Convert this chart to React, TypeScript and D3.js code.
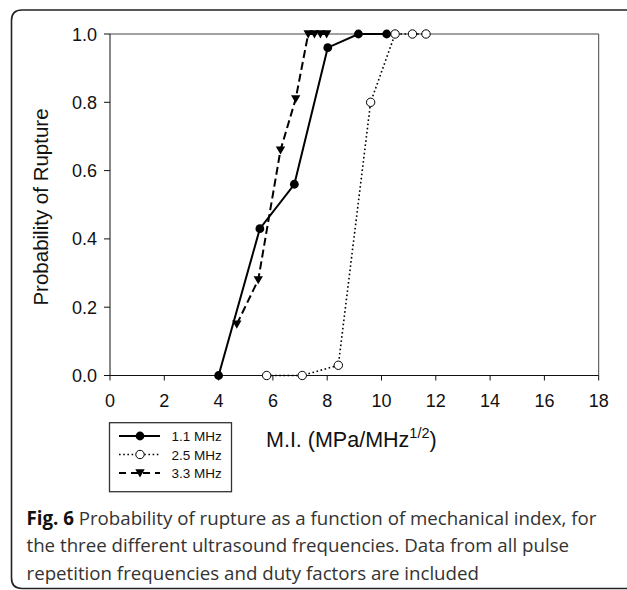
import React from "react";
import * as d3 from "d3";

const xTicks = [0, 2, 4, 6, 8, 10, 12, 14, 16, 18];
const yTicks = [0, 0.2, 0.4, 0.6, 0.8, 1.0];

const mi11 = [4.0, 5.52, 6.79, 8.02, 9.15, 10.19];
const p11 = [0, 0.43, 0.56, 0.96, 1.0, 1.0];

const mi25 = [5.77, 7.08, 8.41, 9.6, 10.5, 11.14, 11.64];
const p25 = [0, 0, 0.03, 0.8, 1.0, 1.0, 1.0];

const mi33 = [4.67, 5.46, 6.28, 6.84, 7.3, 7.53, 7.75, 7.98];
const p33 = [0.15, 0.28, 0.66, 0.81, 1.0, 1.0, 1.0, 1.0];

const legendLabels = ["1.1 MHz", "2.5 MHz", "3.3 MHz"];

const captionLines = [
  ["Fig. 6", " Probability of rupture as a function of mechanical index, for"],
  ["", "the three different ultrasound frequencies. Data from all pulse"],
  ["", "repetition frequencies and duty factors are included"],
];

export default function App() {
  const x = d3.scaleLinear().domain([0, 18]).range([110, 598.7]);
  const y = d3.scaleLinear().domain([0, 1]).range([375.5, 34]);

  const line = d3
    .line<[number, number]>()
    .x((d) => x(d[0]))
    .y((d) => y(d[1]));

  const s11 = mi11.map((v, i) => [v, p11[i]] as [number, number]);
  const s25 = mi25.map((v, i) => [v, p25[i]] as [number, number]);
  const s33 = mi33.map((v, i) => [v, p33[i]] as [number, number]);

  const tri = d3.symbol().type(d3.symbolTriangle).size(38)() as string;

  const font = "'Liberation Sans', Arial, sans-serif";
  const legRows = [436, 454.5, 473];

  return (
    <svg
      width={627}
      height={590}
      style={{ position: "absolute", left: 0, top: 0, background: "#fff" }}
    >
      {/* outer frame */}
      <path
        d="M 640 10 L 22 10 Q 11.5 10 11.5 20.5 L 11.5 578 Q 11.5 588.5 22 588.5 L 640 588.5"
        fill="none"
        stroke="#222"
        strokeWidth={1.6}
      />

      {/* plot box */}
      <line x1={x(0)} x2={x(18)} y1={y(1)} y2={y(1)} stroke="#444" strokeWidth={1} />
      <line x1={x(18)} x2={x(18)} y1={y(1)} y2={y(0)} stroke="#444" strokeWidth={1} />
      <line x1={x(0)} x2={x(18)} y1={y(0)} y2={y(0)} stroke="#111" strokeWidth={1} />
      <line x1={x(0)} x2={x(0)} y1={y(1)} y2={y(0)} stroke="#111" strokeWidth={1} />

      {/* x ticks */}
      {xTicks.map((t) => (
        <g key={"xt" + t}>
          <line x1={x(t)} x2={x(t)} y1={y(0)} y2={y(0) + 5} stroke="#111" />
          <text
            x={x(t)}
            y={406.5}
            textAnchor="middle"
            fontFamily={font}
            fontSize={18}
            fill="#111"
          >
            {t}
          </text>
        </g>
      ))}

      {/* y ticks */}
      {yTicks.map((t) => (
        <g key={"yt" + t}>
          <line x1={x(0) - 6} x2={x(0)} y1={y(t)} y2={y(t)} stroke="#111" />
          <text
            x={97}
            y={y(t) + 6.5}
            textAnchor="end"
            fontFamily={font}
            fontSize={18}
            fill="#111"
          >
            {t.toFixed(1)}
          </text>
        </g>
      ))}

      {/* axis titles */}
      <text
        transform={`translate(47.5,${207}) rotate(-90)`}
        textAnchor="middle"
        fontFamily={font}
        fontSize={20.5}
        fill="#111"
      >
        Probability of Rupture
      </text>
      <text x={266} y={446.5} fontFamily={font} fontSize={21.5} fill="#111">
        M.I. (MPa/MHz
        <tspan fontSize={14.5} dy={-9}>
          1/2
        </tspan>
        <tspan dy={9}>)</tspan>
      </text>

      {/* series lines */}
      <path d={line(s11) as string} fill="none" stroke="#000" strokeWidth={2} />
      <path
        d={line(s25) as string}
        fill="none"
        stroke="#000"
        strokeWidth={1.6}
        strokeDasharray="1.6,2.6"
      />
      <path
        d={line(s33) as string}
        fill="none"
        stroke="#000"
        strokeWidth={2}
        strokeDasharray="8,4"
      />

      {/* markers */}
      {s11.map((d, i) => (
        <circle key={"c11" + i} cx={x(d[0])} cy={y(d[1])} r={4.4} fill="#000" />
      ))}
      {s25.map((d, i) => (
        <circle
          key={"c25" + i}
          cx={x(d[0])}
          cy={y(d[1])}
          r={4.2}
          fill="#fff"
          stroke="#000"
          strokeWidth={1}
        />
      ))}
      {s33.map((d, i) => (
        <path
          key={"t33" + i}
          d={tri}
          transform={`translate(${x(d[0])},${y(d[1]) - 1}) rotate(180)`}
          fill="#000"
        />
      ))}

      {/* legend */}
      <rect
        x={109.5}
        y={422.7}
        width={122}
        height={69}
        fill="#fff"
        stroke="#333"
        strokeWidth={1.3}
      />
      <line x1={119} x2={160} y1={legRows[0]} y2={legRows[0]} stroke="#000" strokeWidth={2} />
      <circle cx={140} cy={legRows[0]} r={4.4} fill="#000" />
      <line
        x1={119}
        x2={160}
        y1={legRows[1]}
        y2={legRows[1]}
        stroke="#000"
        strokeWidth={1.6}
        strokeDasharray="1.6,2.6"
      />
      <circle cx={140} cy={legRows[1]} r={4.2} fill="#fff" stroke="#000" strokeWidth={1} />
      <line
        x1={119}
        x2={160}
        y1={legRows[2]}
        y2={legRows[2]}
        stroke="#000"
        strokeWidth={2}
        strokeDasharray="7,5"
      />
      <path d={tri} transform={`translate(140,${legRows[2] - 1}) rotate(180)`} fill="#000" />
      {legendLabels.map((l, i) => (
        <text
          key={l}
          x={171.5}
          y={legRows[i] + 5}
          fontFamily={font}
          fontSize={13.5}
          fill="#111"
        >
          {l}
        </text>
      ))}

      {/* caption */}
      {captionLines.map((ln, i) => (
        <text
          key={"cap" + i}
          x={26.5}
          y={524.5 + i * 27.5}
          fontFamily="'Open Sans', sans-serif"
          fontSize={18.7}
          fill="#333"
        >
          {ln[0] ? (
            <tspan fontWeight="bold" fill="#111">
              {ln[0]}
            </tspan>
          ) : null}
          {ln[1]}
        </text>
      ))}
    </svg>
  );
}
